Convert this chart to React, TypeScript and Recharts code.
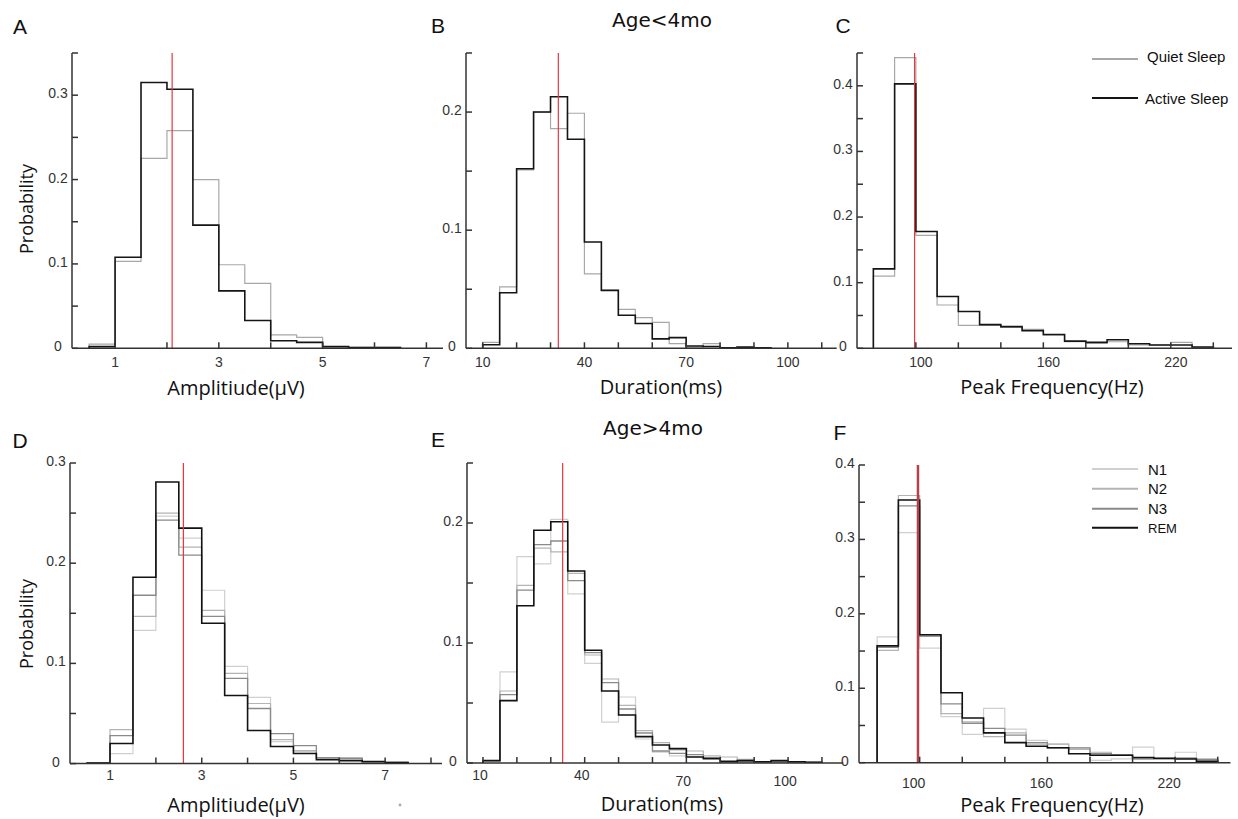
import { LineChart, Line, XAxis, YAxis, ReferenceLine } from "recharts";

// ---- Age<4mo : Quiet Sleep vs Active Sleep ----
const AMP_EDGES_A = [0.5, 1, 1.5, 2, 2.5, 3, 3.5, 4, 4.5, 5, 5.5, 6, 6.5];
const AMP_QUIET = [0.005, 0.103, 0.225, 0.258, 0.2, 0.099, 0.077, 0.016, 0.013, 0.002, 0.001, 0.001];
const AMP_ACTIVE = [0.002, 0.108, 0.315, 0.307, 0.146, 0.068, 0.033, 0.009, 0.007, 0.002, 0.001, 0.001];

const DUR_EDGES_B = [10, 15, 20, 25, 30, 35, 40, 45, 50, 55, 60, 65, 70, 75, 80, 85, 90, 95];
const DUR_QUIET = [0.005, 0.052, 0.151, 0.2, 0.186, 0.199, 0.063, 0.049, 0.033, 0.026, 0.022, 0.004, 0.001, 0.004, 0.0005, 0.0005, 0.0005];
const DUR_ACTIVE = [0.003, 0.047, 0.152, 0.2, 0.213, 0.177, 0.09, 0.049, 0.028, 0.021, 0.008, 0.009, 0.002, 0.0015, 0.0005, 0.001, 0.0005];

const FREQ_EDGES = [80, 90, 100, 110, 120, 130, 140, 150, 160, 170, 180, 190, 200, 210, 220, 230, 240];
const FREQ_QUIET = [0.11, 0.443, 0.172, 0.066, 0.035, 0.035, 0.032, 0.029, 0.02, 0.01, 0.008, 0.01, 0.005, 0.005, 0.009, 0.001];
const FREQ_ACTIVE = [0.121, 0.403, 0.178, 0.079, 0.056, 0.036, 0.033, 0.027, 0.021, 0.011, 0.009, 0.013, 0.007, 0.005, 0.005, 0.002];

// ---- Age>4mo : N1 / N2 / N3 / REM ----
const AMP_EDGES_D = [0.5, 1, 1.5, 2, 2.5, 3, 3.5, 4, 4.5, 5, 5.5, 6, 6.5, 7, 7.5];
const AMP_N1 = [0.0005, 0.01, 0.133, 0.247, 0.225, 0.173, 0.097, 0.066, 0.022, 0.012, 0.006, 0.006, 0.002, 0.002];
const AMP_N2 = [0.0005, 0.034, 0.147, 0.25, 0.216, 0.153, 0.09, 0.06, 0.024, 0.013, 0.006, 0.006, 0.002, 0.001];
const AMP_N3 = [0.0005, 0.028, 0.168, 0.243, 0.208, 0.147, 0.085, 0.055, 0.03, 0.018, 0.006, 0.005, 0.002, 0.001];
const AMP_REM = [0.0005, 0.02, 0.186, 0.281, 0.235, 0.14, 0.068, 0.033, 0.017, 0.01, 0.004, 0.003, 0.002, 0.001];

const DUR_EDGES_E = [10, 15, 20, 25, 30, 35, 40, 45, 50, 55, 60, 65, 70, 75, 80, 85, 90, 95, 100, 105, 110];
const DUR_N1 = [0.002, 0.076, 0.172, 0.166, 0.203, 0.141, 0.083, 0.034, 0.055, 0.02, 0.009, 0.006, 0.005, 0.004, 0.002, 0.001, 0.001, 0.002, 0.001, 0.0005];
const DUR_N2 = [0.002, 0.06, 0.148, 0.179, 0.176, 0.158, 0.09, 0.07, 0.048, 0.027, 0.017, 0.011, 0.01, 0.006, 0.005, 0.003, 0.001, 0.001, 0.001, 0.0005];
const DUR_N3 = [0.002, 0.057, 0.144, 0.182, 0.185, 0.152, 0.092, 0.067, 0.045, 0.025, 0.01, 0.008, 0.007, 0.003, 0.002, 0.001, 0.001, 0.001, 0.001, 0.0005];
const DUR_REM = [0.002, 0.052, 0.131, 0.194, 0.201, 0.16, 0.094, 0.06, 0.04, 0.022, 0.015, 0.012, 0.005, 0.004, 0.001, 0.002, 0.001, 0.002, 0.001, 0.0005];

const FREQ_N1 = [0.169, 0.309, 0.154, 0.062, 0.038, 0.073, 0.045, 0.03, 0.025, 0.02, 0.003, 0.005, 0.021, 0.006, 0.014, 0.002];
const FREQ_N2 = [0.151, 0.359, 0.17, 0.066, 0.055, 0.035, 0.04, 0.025, 0.025, 0.018, 0.014, 0.011, 0.005, 0.005, 0.006, 0.005];
const FREQ_N3 = [0.155, 0.345, 0.17, 0.079, 0.053, 0.046, 0.037, 0.027, 0.02, 0.02, 0.012, 0.01, 0.005, 0.005, 0.006, 0.004];
const FREQ_REM = [0.157, 0.353, 0.172, 0.094, 0.06, 0.04, 0.027, 0.022, 0.02, 0.012, 0.01, 0.01, 0.007, 0.006, 0.005, 0.002];

// medians (red lines)
const MEDIANS = { A: 2.1, B: 32.3, C: 99.4, D: 2.6, E: 33.5, F: 99.2 };

// ticks
const AMP_TICKS_A = [1, 2, 3, 4, 5, 6, 7];
const AMP_TICKS_D = [1, 2, 3, 4, 5, 6, 7, 8];
const AMP_LABELS = [1, 3, 5, 7];
const DUR_TICKS = [10, 20, 30, 40, 50, 60, 70, 80, 90, 100, 110];
const DUR_LABELS = [10, 40, 70, 100];
const FREQ_TICKS = [100, 120, 140, 160, 180, 200, 220, 240];
const FREQ_LABELS = [100, 160, 220];
const Y_TICKS_A = [0, 0.05, 0.1, 0.15, 0.2, 0.25, 0.3, 0.35];
const Y_TICKS_B = [0, 0.05, 0.1, 0.15, 0.2, 0.25];
const Y_TICKS_C = [0, 0.05, 0.1, 0.15, 0.2, 0.25, 0.3, 0.35, 0.4, 0.45];
const Y_TICKS_D = [0, 0.05, 0.1, 0.15, 0.2, 0.25, 0.3];
const Y_TICKS_F = [0, 0.05, 0.1, 0.15, 0.2, 0.25, 0.3, 0.35, 0.4];
const Y_LABELS = [0, 0.1, 0.2, 0.3, 0.4];

const AXIS = "#333";
const TICK_FONT = "'Liberation Sans', Arial, sans-serif";
const LABEL_FONT = "'Open Sans', sans-serif";

type Series = { name: string; values: number[]; color: string; width: number };

type PanelProps = {
  box: { left: number; right: number; top: number; bottom: number };
  xDomain: [number, number];
  yMax: number;
  edges: number[];
  series: Series[];
  xTicks: number[];
  xLabels: number[];
  yTicks: number[];
  labelDrop: number;
  lowLabels?: number[];
  labelShift?: number;
  median: number;
  medianColor: string;
  medianWidth: number;
};

function stairs(edges: number[], values: number[]) {
  const pts = [{ x: edges[0], y: 0 }];
  values.forEach((v, i) => pts.push({ x: edges[i], y: v }));
  pts.push({ x: edges[values.length], y: 0 });
  return pts;
}

function Panel(p: PanelProps) {
  const width = p.box.right - p.box.left + 58;
  const height = p.box.bottom - p.box.top + 40;

  // inward tick marks, labels only on some of them (matlab style)
  const xTick = (t: any) => {
    const v = t.payload.value;
    const labeled = p.xLabels.includes(v);
    const drop = p.labelDrop + (p.lowLabels && p.lowLabels.includes(v) ? 6 : 0);
    return (
      <g>
        <line x1={t.x} y1={t.y} x2={t.x} y2={t.y - 6} stroke={AXIS} strokeWidth={1.5} />
        {labeled && (
          <text x={t.x + (p.labelShift || 0)} y={t.y + drop} textAnchor="middle" fontSize={14} fill="#333" fontFamily={TICK_FONT}>
            {v}
          </text>
        )}
      </g>
    );
  };

  const yTick = (t: any) => {
    const v = t.payload.value;
    const labeled = Y_LABELS.includes(v);
    return (
      <g>
        <line x1={t.x} y1={t.y} x2={t.x + 6} y2={t.y} stroke={AXIS} strokeWidth={1.5} />
        {labeled && (
          <text x={t.x - 14} y={t.y + 3} textAnchor="middle" fontSize={14} fill="#333" fontFamily={TICK_FONT}>
            {v === 0 ? "0" : String(v)}
          </text>
        )}
      </g>
    );
  };

  return (
    <div style={{ position: "absolute", left: p.box.left - 50, top: p.box.top - 10 }}>
      <LineChart width={width} height={height} margin={{ top: 10, right: 8, left: 0, bottom: 0 }}>
        <XAxis
          type="number"
          dataKey="x"
          domain={p.xDomain}
          allowDataOverflow
          ticks={p.xTicks}
          interval={0}
          height={30}
          tickSize={0}
          tickMargin={0}
          tickLine={false}
          tick={xTick}
          axisLine={{ stroke: AXIS, strokeWidth: 1.5 }}
        />
        <YAxis
          type="number"
          domain={[0, p.yMax]}
          allowDataOverflow
          ticks={p.yTicks}
          interval={0}
          width={50}
          tickSize={0}
          tickMargin={0}
          tickLine={false}
          tick={yTick}
          axisLine={{ stroke: AXIS, strokeWidth: 1.5 }}
        />
        {p.series.map((s) => (
          <Line
            key={s.name}
            name={s.name}
            data={stairs(p.edges, s.values)}
            dataKey="y"
            type="stepAfter"
            stroke={s.color}
            strokeWidth={s.width}
            dot={false}
            activeDot={false}
            isAnimationActive={false}
          />
        ))}
        <ReferenceLine x={p.median} stroke={p.medianColor} strokeWidth={p.medianWidth} />
      </LineChart>
    </div>
  );
}

const QUIET = "#a8a8a8";
const ACTIVE = "#151515";
const C_N1 = "#d0d0d0";
const C_N2 = "#b4b4b4";
const C_N3 = "#8a8a8a";
const C_REM = "#121212";

export default function App() {
  const topSeries = (q: number[], a: number[]): Series[] => [
    { name: "Quiet Sleep", values: q, color: QUIET, width: 1.2 },
    { name: "Active Sleep", values: a, color: ACTIVE, width: 1.6 },
  ];
  const botSeries = (n1: number[], n2: number[], n3: number[], rem: number[]): Series[] => [
    { name: "N1", values: n1, color: C_N1, width: 1.2 },
    { name: "N2", values: n2, color: C_N2, width: 1.2 },
    { name: "N3", values: n3, color: C_N3, width: 1.3 },
    { name: "REM", values: rem, color: C_REM, width: 1.6 },
  ];
  const red = "#e8363f";

  return (
    <div style={{ position: "relative", width: 1238, height: 819, background: "#fff", overflow: "hidden" }}>
      <style>{"body{margin:0}"}</style>

      <Panel box={{ left: 72, right: 443, top: 53, bottom: 348.3 }} xDomain={[0.17, 7.32]} yMax={0.35}
        edges={AMP_EDGES_A} series={topSeries(AMP_QUIET, AMP_ACTIVE)} xTicks={AMP_TICKS_A} xLabels={AMP_LABELS}
        yTicks={Y_TICKS_A} labelDrop={18.5} median={MEDIANS.A} medianColor={red} medianWidth={1.2} />
      <Panel box={{ left: 466, right: 836.7, top: 53, bottom: 348.3 }} xDomain={[5.07, 114.4]} yMax={0.25}
        edges={DUR_EDGES_B} series={topSeries(DUR_QUIET, DUR_ACTIVE)} xTicks={DUR_TICKS} xLabels={DUR_LABELS}
        yTicks={Y_TICKS_B} labelDrop={18.5} median={MEDIANS.B} medianColor={red} medianWidth={1.2} />
      <Panel box={{ left: 857, right: 1232, top: 53, bottom: 348.3 }} xDomain={[72.3, 248.8]} yMax={0.45}
        edges={FREQ_EDGES} series={topSeries(FREQ_QUIET, FREQ_ACTIVE)} xTicks={FREQ_TICKS} xLabels={FREQ_LABELS}
        yTicks={Y_TICKS_C} labelDrop={18.5} labelShift={5} median={MEDIANS.C} medianColor={red} medianWidth={1.2} />

      <Panel box={{ left: 70, right: 442, top: 462.7, bottom: 763.3 }} xDomain={[0.127, 8.24]} yMax={0.3}
        edges={AMP_EDGES_D} series={botSeries(AMP_N1, AMP_N2, AMP_N3, AMP_REM)} xTicks={AMP_TICKS_D} xLabels={AMP_LABELS}
        yTicks={Y_TICKS_D} labelDrop={16.7} median={MEDIANS.D} medianColor={red} medianWidth={1.2} />
      <Panel box={{ left: 466.7, right: 843, top: 462.7, bottom: 762.7 }} xDomain={[5.28, 116.3]} yMax={0.25}
        edges={DUR_EDGES_E} series={botSeries(DUR_N1, DUR_N2, DUR_N3, DUR_REM)} xTicks={DUR_TICKS} xLabels={DUR_LABELS}
        yTicks={Y_TICKS_B} labelDrop={17.3} lowLabels={[70, 100]} labelShift={-3} median={MEDIANS.E} medianColor={red} medianWidth={1.2} />
      <Panel box={{ left: 858.5, right: 1230, top: 465, bottom: 762.7 }} xDomain={[71.5, 246]} yMax={0.4}
        edges={FREQ_EDGES} series={botSeries(FREQ_N1, FREQ_N2, FREQ_N3, FREQ_REM)} xTicks={FREQ_TICKS} xLabels={FREQ_LABELS}
        yTicks={Y_TICKS_F} labelDrop={25} labelShift={-6} median={MEDIANS.F} medianColor="#b8404e" medianWidth={2.5} />

      <svg width={1238} height={819} style={{ position: "absolute", left: 0, top: 0, pointerEvents: "none" }}>
        <g fontFamily={TICK_FONT} fontSize={21} fill="#111">
          <text x={20} y={34} textAnchor="middle">A</text>
          <text x={438} y={33} textAnchor="middle">B</text>
          <text x={843} y={33} textAnchor="middle">C</text>
          <text x={20} y={448} textAnchor="middle">D</text>
          <text x={438} y={446.5} textAnchor="middle">E</text>
          <text x={840} y={440} textAnchor="middle">F</text>
        </g>
        <g fontFamily="'DejaVu Sans', sans-serif" fontSize={20} fill="#111">
          <text x={662} y={27} textAnchor="middle">Age&lt;4mo</text>
          <text x={653} y={435} textAnchor="middle">Age&gt;4mo</text>
        </g>
        <g fontFamily={LABEL_FONT} fontSize={20} fill="#111">
          <text x={236} y={395} textAnchor="middle">Amplitiude(μV)</text>
          <text x={661} y={393.5} textAnchor="middle">Duration(ms)</text>
          <text x={1052} y={393.5} textAnchor="middle">Peak Frequency(Hz)</text>
          <text x={236} y={811.5} textAnchor="middle">Amplitiude(μV)</text>
          <text x={662} y={811} textAnchor="middle">Duration(ms)</text>
          <text x={1052} y={811.5} textAnchor="middle">Peak Frequency(Hz)</text>
        </g>
        <g fontFamily={LABEL_FONT} fontSize={18} fill="#111">
          <text x={33} y={209} textAnchor="middle" transform="rotate(-90 33 209)">Probability</text>
          <text x={33} y={624} textAnchor="middle" transform="rotate(-90 33 624)">Probability</text>
        </g>

        <g fontFamily={TICK_FONT} fill="#111">
          <line x1={1092} y1={59} x2={1138} y2={59} stroke={QUIET} strokeWidth={2} />
          <text x={1147} y={61.5} fontSize={15}>Quiet Sleep</text>
          <line x1={1092} y1={98} x2={1138} y2={98} stroke={ACTIVE} strokeWidth={2} />
          <text x={1145} y={104} fontSize={15}>Active Sleep</text>

          <line x1={1092} y1={469} x2={1138} y2={469} stroke={C_N1} strokeWidth={2} />
          <text x={1148} y={474.5} fontSize={15}>N1</text>
          <line x1={1092} y1={488.7} x2={1138} y2={488.7} stroke={C_N2} strokeWidth={2} />
          <text x={1148} y={494} fontSize={15}>N2</text>
          <line x1={1092} y1={508.7} x2={1138} y2={508.7} stroke={C_N3} strokeWidth={2} />
          <text x={1148} y={514} fontSize={15}>N3</text>
          <line x1={1092} y1={527.7} x2={1138} y2={527.7} stroke={C_REM} strokeWidth={2} />
          <text x={1148} y={532.5} fontSize={13}>REM</text>
        </g>
        <circle cx={400} cy={805} r={1.4} fill="#aaa" />
      </svg>
    </div>
  );
}
